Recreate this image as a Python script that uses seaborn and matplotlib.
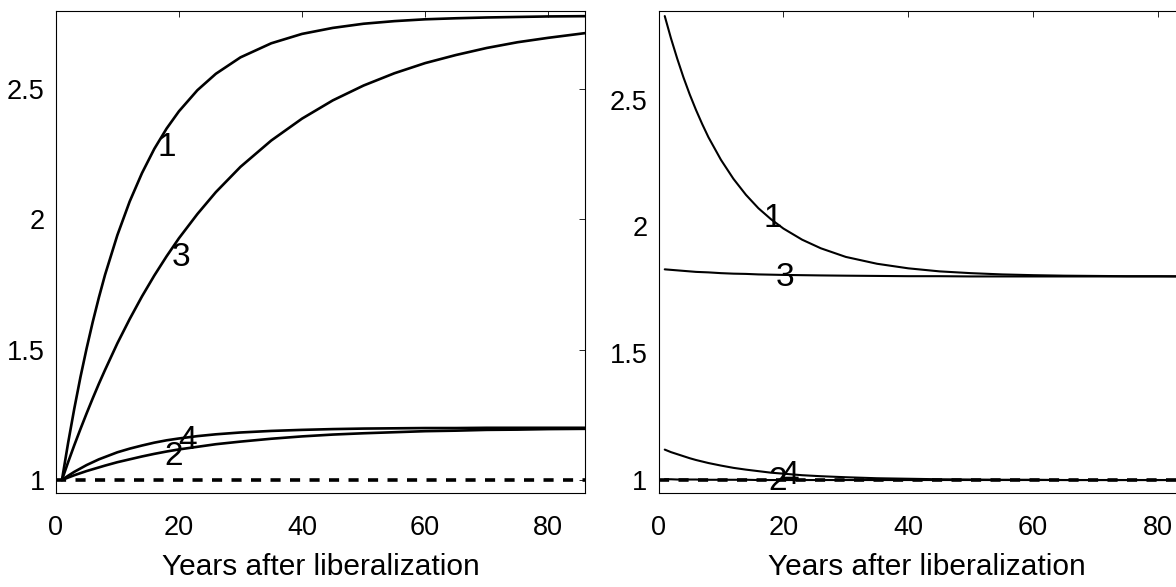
import matplotlib
matplotlib.use("Agg")
import matplotlib.pyplot as plt
import seaborn as sns
import pandas as pd

# ---------------- data ----------------
years = [1, 2, 3, 4, 5, 6, 7, 8, 10, 12, 14, 16, 18, 20, 23, 26, 30, 35,
         40, 45, 50, 55, 60, 65, 70, 75, 80, 86]

# left panel
left_1 = [1.000, 1.142, 1.273, 1.394, 1.504, 1.606, 1.700, 1.787, 1.939, 2.068,
          2.177, 2.270, 2.348, 2.414, 2.495, 2.558, 2.621, 2.675, 2.711, 2.734,
          2.750, 2.760, 2.767, 2.771, 2.774, 2.776, 2.778, 2.779]
left_3 = [1.000, 1.068, 1.133, 1.195, 1.255, 1.313, 1.369, 1.422, 1.524, 1.617,
          1.704, 1.784, 1.858, 1.927, 2.020, 2.104, 2.201, 2.302, 2.386, 2.456,
          2.513, 2.560, 2.599, 2.630, 2.657, 2.679, 2.696, 2.714]
left_4 = [1.000, 1.016, 1.031, 1.044, 1.057, 1.068, 1.079, 1.088, 1.106, 1.120,
          1.132, 1.143, 1.152, 1.159, 1.168, 1.175, 1.182, 1.188, 1.192, 1.195,
          1.197, 1.198, 1.199, 1.199, 1.200, 1.200, 1.200, 1.200]
left_2 = [1.000, 1.009, 1.018, 1.026, 1.034, 1.041, 1.048, 1.055, 1.068, 1.079,
          1.090, 1.100, 1.109, 1.117, 1.127, 1.137, 1.147, 1.158, 1.167, 1.174,
          1.179, 1.183, 1.187, 1.189, 1.192, 1.193, 1.195, 1.196]

# right panel
right_1 = [2.830, 2.742, 2.662, 2.588, 2.521, 2.460, 2.404, 2.352, 2.263, 2.188,
           2.125, 2.072, 2.029, 1.992, 1.948, 1.914, 1.880, 1.853, 1.835, 1.823,
           1.816, 1.811, 1.808, 1.806, 1.805, 1.804, 1.804, 1.803]
right_3 = [1.831, 1.829, 1.827, 1.825, 1.823, 1.821, 1.820, 1.819, 1.816, 1.814,
           1.813, 1.811, 1.810, 1.809, 1.808, 1.807, 1.806, 1.805, 1.804, 1.804,
           1.803, 1.803, 1.803, 1.803, 1.803, 1.803, 1.803, 1.803]
right_4 = [1.120, 1.110, 1.102, 1.094, 1.086, 1.079, 1.073, 1.067, 1.057, 1.048,
           1.041, 1.035, 1.029, 1.025, 1.019, 1.015, 1.011, 1.007, 1.005, 1.003,
           1.002, 1.001, 1.001, 1.000, 1.000, 1.000, 1.000, 1.000]
right_2 = [1.003, 1.003, 1.002, 1.002, 1.002, 1.002, 1.001, 1.001, 1.001, 1.001,
           1.001, 1.000, 1.000, 1.000, 1.000, 1.000, 1.000, 1.000, 1.000, 1.000,
           1.000, 1.000, 1.000, 1.000, 1.000, 1.000, 1.000, 1.000]

baseline_x = [0, 86]
baseline_y = [1.0, 1.0]

# curve labels: (text, x, y)
left_labels = [("1", 18.1, 2.274), ("3", 20.3, 1.855), ("4", 21.4, 1.150), ("2", 19.1, 1.088)]
right_labels = [("1", 18.3, 2.031), ("3", 20.3, 1.797), ("4", 21.0, 1.019), ("2", 19.1, 0.995)]

x_ticks = [0, 20, 40, 60, 80]
y_ticks = [1, 1.5, 2, 2.5]
y_ticklabels = ["1", "1.5", "2", "2.5"]
x_label = "Years after liberalization"

# ---------------- style ----------------
sns.set_style("white")
plt.rcParams["font.family"] = ["Liberation Sans", "DejaVu Sans"]

W, H = 1176, 587
fig = plt.figure(figsize=(W / 100, H / 100), dpi=100)

def px_axes(x0, top, width, bottom):
    return fig.add_axes([x0 / W, 1 - bottom / H, width / W, (bottom - top) / H])

ax_l = px_axes(55.8, 10.7, 529.4, 492.7)
ax_r = px_axes(658.5, 11.0, 537.0, 492.7)

panels = [
    (ax_l, [left_1, left_3, left_4, left_2], left_labels, (0.951, 2.80), 1.9),
    (ax_r, [right_1, right_3, right_4, right_2], right_labels, (0.950, 2.85), 1.5),
]

for ax, series, labels, ylim, lw in panels:
    for s in series:
        df = pd.DataFrame({"year": years, "value": s})
        sns.lineplot(data=df, x="year", y="value", ax=ax, color="black",
                     linewidth=lw, estimator=None, sort=False)
    sns.lineplot(x=baseline_x, y=baseline_y, ax=ax, color="black",
                 linewidth=2.6, linestyle=(0, (2.8, 2.6)), estimator=None)
    for txt, lx, ly in labels:
        ax.text(lx, ly, txt, fontsize=24, ha="center", va="center",
                color="black")
    ax.set_xlim(0, 86)
    ax.set_ylim(*ylim)
    ax.set_xticks(x_ticks)
    ax.set_xticklabels([str(v) for v in x_ticks])
    ax.set_yticks(y_ticks)
    ax.set_yticklabels(y_ticklabels)
    ax.set_xlabel(x_label, fontsize=21.5, labelpad=9, color="black")
    ax.set_ylabel("")
    ax.tick_params(direction="in", length=4.3, width=0.6, top=True, right=True,
                   labelsize=19.5, colors="black")
    ax.tick_params(axis="x", pad=16)
    ax.tick_params(axis="y", pad=8)
    for sp in ax.spines.values():
        sp.set_visible(True)
        sp.set_color("black")
        sp.set_linewidth(0.8)

fig.savefig("out.png", dpi=100, facecolor="white")
